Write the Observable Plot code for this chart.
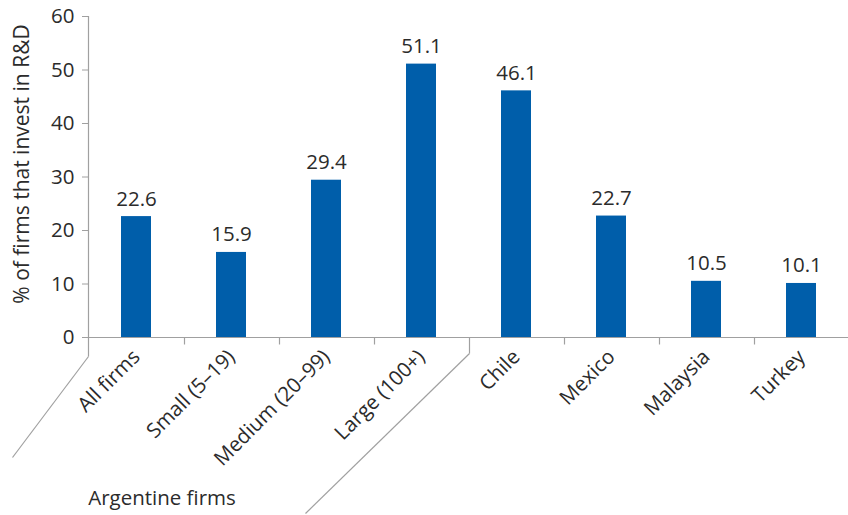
<!DOCTYPE html>
<html><head><meta charset="utf-8">
<script src="https://cdn.jsdelivr.net/npm/d3@7"></script>
<script src="https://cdn.jsdelivr.net/npm/@observablehq/plot@0.6"></script>
<style>body{margin:0;background:#fff;} svg{font-family:"Open Sans",sans-serif;}</style>
</head><body><div id="chart"></div>
<script>
const categories = ["All firms","Small (5–19)","Medium (20–99)","Large (100+)","Chile","Mexico","Malaysia","Turkey"];
const values = [22.6,15.9,29.4,51.1,46.1,22.7,10.5,10.1];
const groupLabel = "Argentine firms";
const groupSize = 4;
const yTicks = [0,10,20,30,40,50,60];
const yLabel = "% of firms that invest in R&D";

const data = categories.map((c,i)=>({category:c, value:values[i]}));

const ink = "#2b2b2b", axisGray = "#a0a0a0", blue = "#005eaa";
const padInner = 0.685;
const fs = 20.5;
const fw = 400;

function decorations(index, scales, vals, dims) {
  const x = scales.x, y = scales.y;
  const step = x.step(), bw = x.bandwidth();
  const edge = c => x(c) - (step - bw) / 2;
  const y0 = Math.round(y(0)) + 0.5;
  const xl = Math.round(dims.marginLeft) + 0.5;
  const g = d3.create("svg:g");
  const lines = g.append("g").attr("stroke", axisGray).attr("fill", "none").attr("stroke-width", 1.2);
  const ln = (x1,y1,x2,y2) => lines.append("line").attr("x1",x1).attr("y1",y1).attr("x2",x2).attr("y2",y2);
  // y axis line + left bracket
  ln(xl, y(60), xl, y0 + 19);
  ln(xl, y0 + 19, xl - 76, y0 + 120);
  // x axis line
  ln(xl, y0, dims.width, y0);
  let rightBottom = null;
  categories.forEach((c, i) => {
    if (i === 0) return;
    const xe = Math.round(edge(c)) + 0.5;
    if (i === groupSize) {
      ln(xe, y0, xe, y0 + 16);
      ln(xe, y0 + 16, xe - 164, y0 + 176);
      rightBottom = xe - 164;
    } else {
      ln(xe, y0, xe, y0 + 7);
    }
  });
  const leftBottom = xl - 76;
  g.append("text")
    .attr("x", (leftBottom + rightBottom) / 2 + 3)
    .attr("y", y0 + 167)
    .attr("text-anchor", "middle")
    .attr("fill", ink)
    .attr("font-size", fs)
    .attr("font-weight", fw)
    .text(groupLabel);
  return g.node();
}

const chart = Plot.plot({
  width: 848,
  height: 515,
  marginLeft: 88,
  marginRight: 0,
  marginTop: 16,
  marginBottom: 178,
  style: {color: ink, fontFamily: "'Open Sans', sans-serif", background: "#fff"},
  x: {domain: categories, paddingInner: padInner, paddingOuter: padInner / 2},
  y: {domain: [0, 60]},
  marks: [
    Plot.barY(data, {x: "category", y: "value", fill: blue}),
    Plot.text(data, {x: "category", y: "value", text: d => d.value.toFixed(1), lineAnchor: "bottom", dy: -11, fontSize: fs, fontWeight: fw, fill: ink}),
    Plot.axisY({ticks: yTicks, tickSize: 6, tickPadding: 8, fontSize: fs, fontWeight: fw, stroke: axisGray, label: null}),
    Plot.axisX({tickSize: 0, tickRotate: -45, tickPadding: 16, fontSize: fs, fontWeight: fw, label: null}),
    decorations,
    Plot.text([yLabel], {frameAnchor: "left", textAnchor: "middle", rotate: -90, dx: -66, dy: -13, fontSize: 21, fontWeight: fw, fill: ink})
  ]
});
document.getElementById("chart").appendChild(chart);
</script>
</body></html>
